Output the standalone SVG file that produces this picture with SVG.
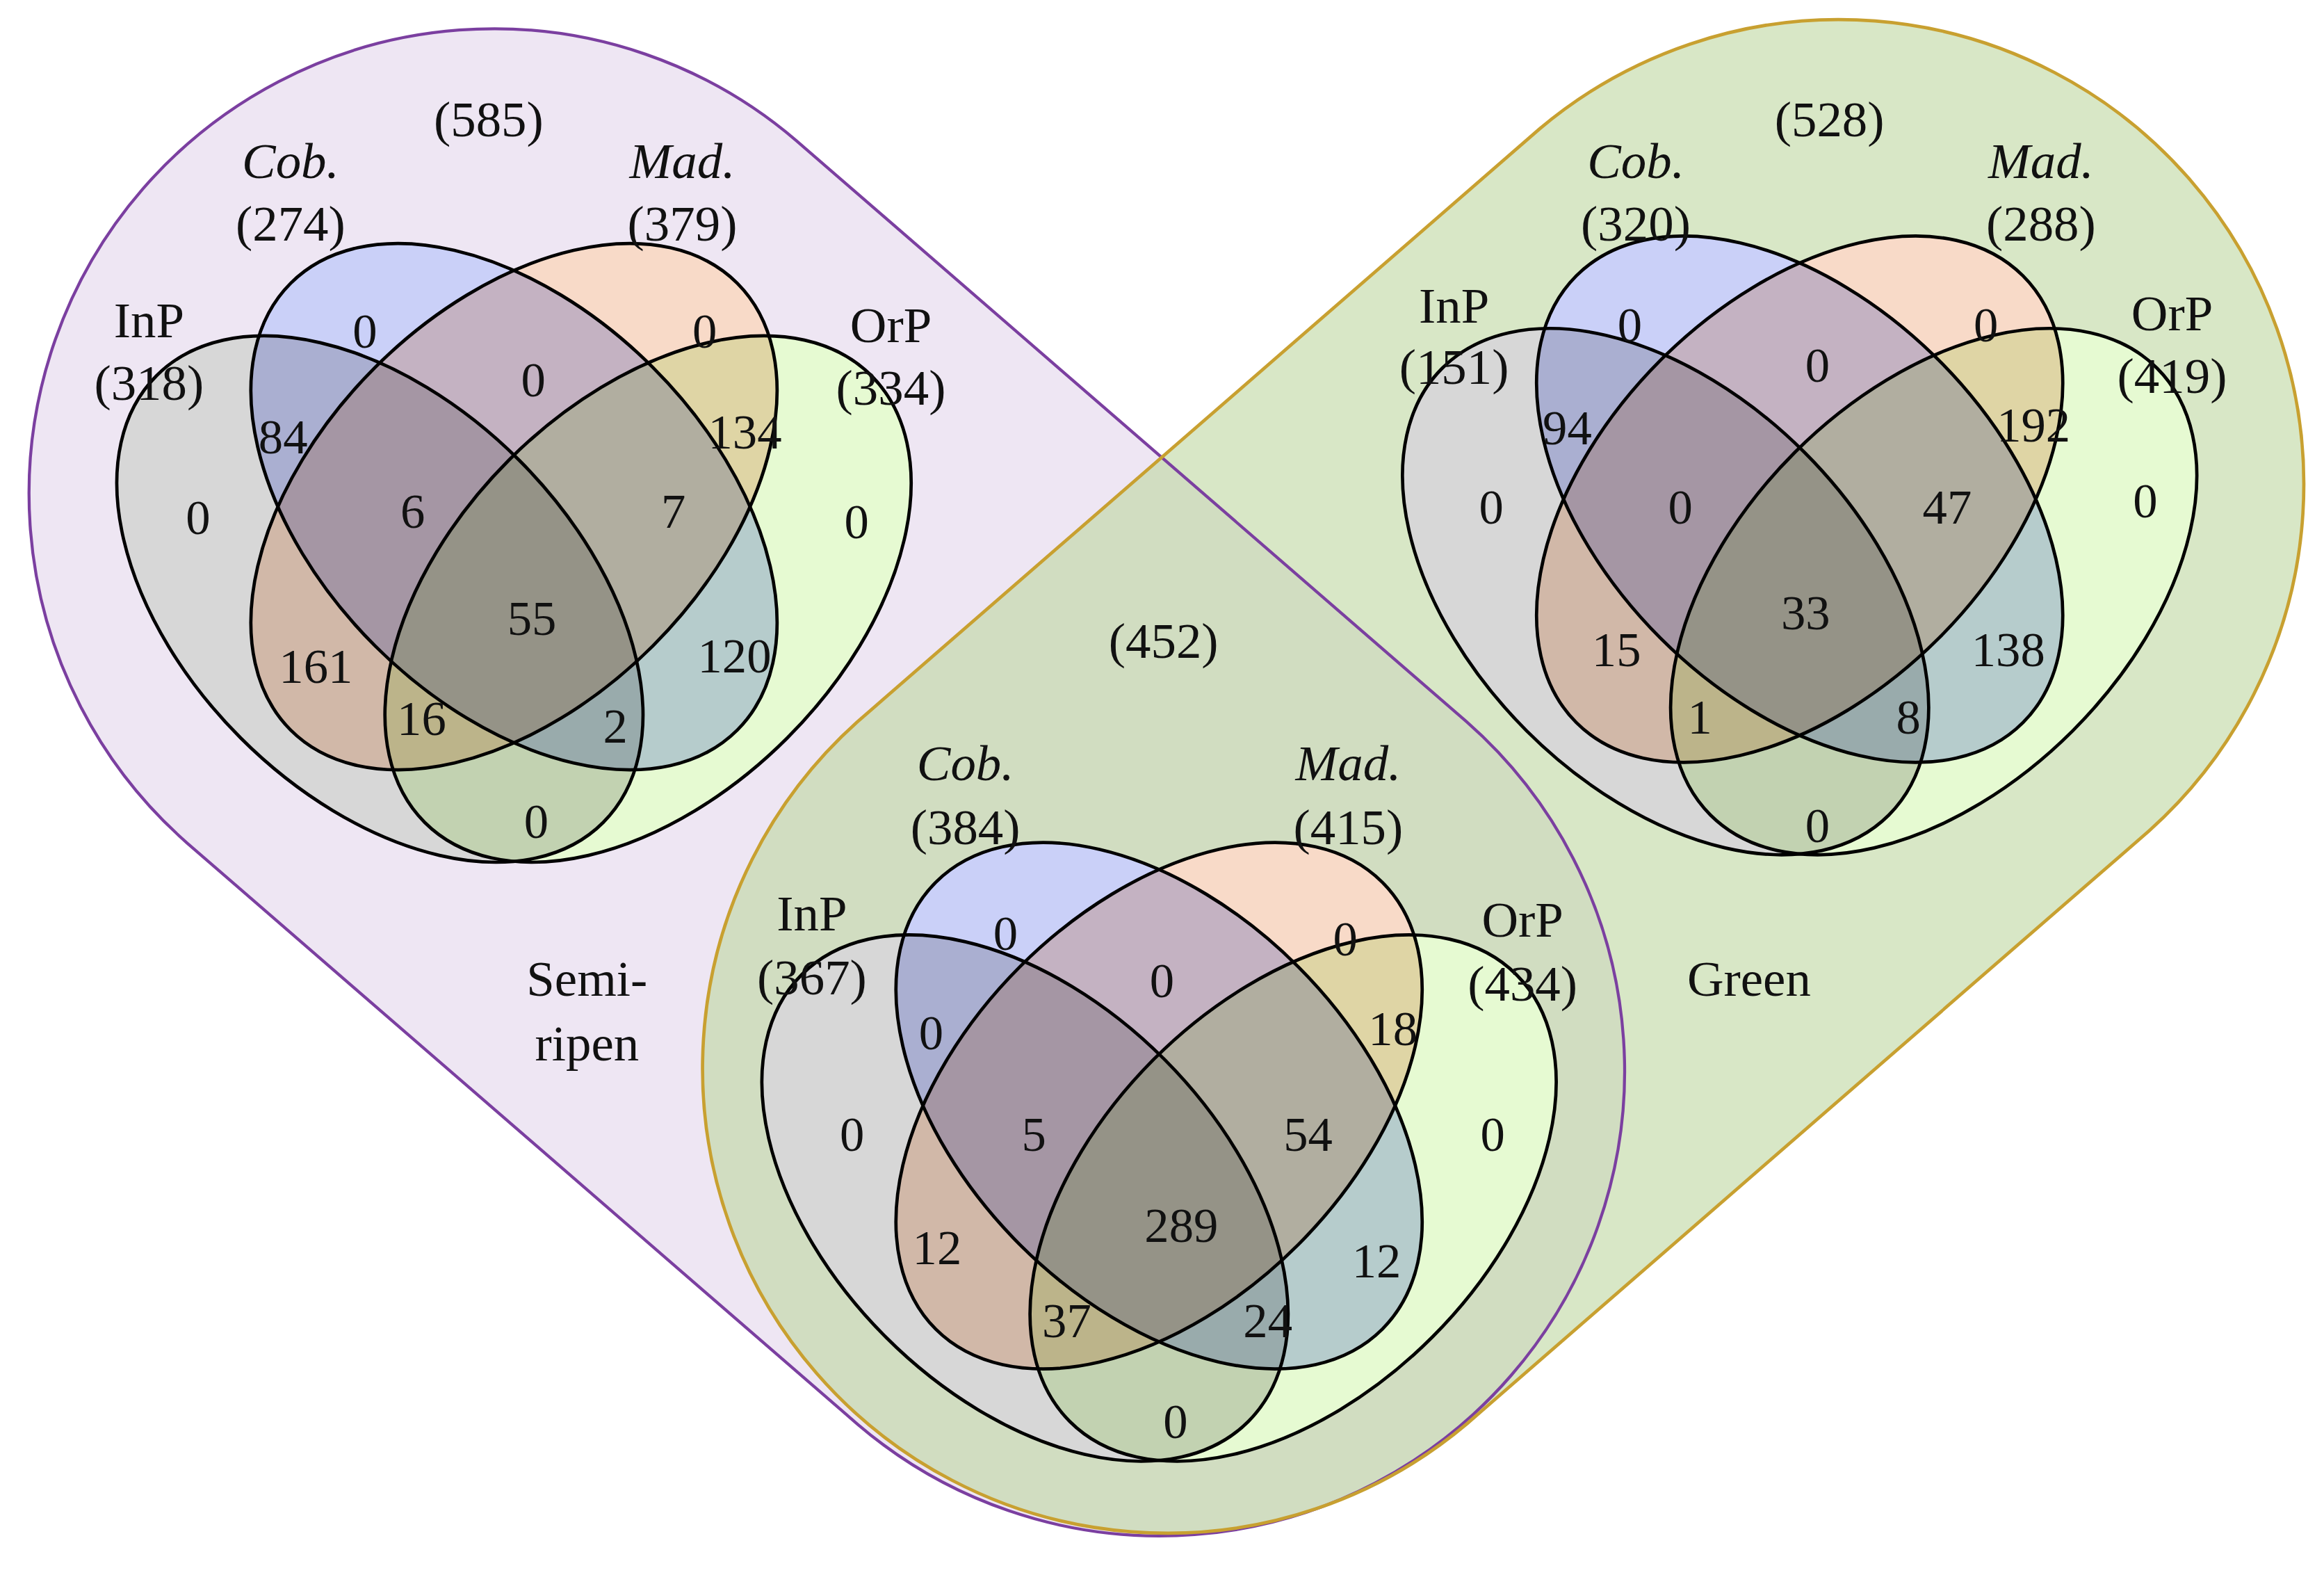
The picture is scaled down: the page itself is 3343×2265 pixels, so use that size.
<svg xmlns="http://www.w3.org/2000/svg" width="3343" height="2265" viewBox="0 0 3343 2265">
<style>
.t{font-family:"Liberation Serif","DejaVu Serif",serif;font-size:33px;fill:#111;text-anchor:middle;dominant-baseline:central}
.i{font-style:italic}
.lb{font-size:34px}
.e{stroke:#000;stroke-width:2.2;mix-blend-mode:multiply}
.w{fill:#fff}
.a{fill:rgb(215,215,215)}
.b{fill:rgb(202,208,248)}
.c{fill:rgb(248,218,200)}
.d{fill:rgb(230,250,210)}
.iso{isolation:isolate}
</style>
<defs>
<ellipse id="eA" cx="0" cy="0" rx="212" ry="132" transform="translate(-90,62) rotate(45)"/>
<ellipse id="eB" cx="0" cy="0" rx="212" ry="132" transform="rotate(45)"/>
<ellipse id="eC" cx="0" cy="0" rx="212" ry="132" transform="rotate(-45)"/>
<ellipse id="eD" cx="0" cy="0" rx="212" ry="132" transform="translate(90,62) rotate(-45)"/>
<g id="venn" class="iso">
<use href="#eA" class="w"/><use href="#eB" class="w"/><use href="#eC" class="w"/><use href="#eD" class="w"/>
<use href="#eA" class="e a"/><use href="#eB" class="e b"/><use href="#eC" class="e c"/><use href="#eD" class="e d"/>
</g>
</defs>
<rect width="3343" height="2265" fill="#fff"/>
<g transform="scale(2.143)">
<g id="groups">
<path id="semiripen" d="M534.3,94.2 L984.3,484.2 A312,312 0 0 1 575.7,955.8 L125.7,565.8 A312,312 0 0 1 534.3,94.2 Z" fill="#eee6f3"/>
<path id="green" d="M1033.4,86.5 A312,312 0 0 1 1442.6,557.5 L984.6,955.5 A312,312 0 0 1 575.4,484.5 Z" fill="rgb(190,215,160)" fill-opacity="0.6"/>
<path d="M534.3,94.2 L984.3,484.2 A312,312 0 0 1 575.7,955.8 L125.7,565.8 A312,312 0 0 1 534.3,94.2 Z" fill="none" stroke="#7b3fa0" stroke-width="2"/>
<path d="M1033.4,86.5 A312,312 0 0 1 1442.6,557.5 L984.6,955.5 A312,312 0 0 1 575.4,484.5 Z" fill="none" stroke="#c8a030" stroke-width="2.2"/>
</g>
<g id="venn-left">
<g class="iso" transform="translate(345,340)"><use href="#venn"/></g>
<text class="t lb" x="328" y="80">(585)</text>
<text class="t lb i" x="195" y="108">Cob.</text><text class="t lb" x="195" y="150">(274)</text>
<text class="t lb i" x="458" y="108">Mad.</text><text class="t lb" x="458" y="150">(379)</text>
<text class="t lb" x="100" y="215">InP</text><text class="t lb" x="100" y="257">(318)</text>
<text class="t lb" x="598" y="218">OrP</text><text class="t lb" x="598" y="260">(334)</text>
<text class="t" x="245" y="222">0</text><text class="t" x="473" y="222">0</text><text class="t" x="358" y="255">0</text>
<text class="t" x="190" y="293">84</text><text class="t" x="500" y="290">134</text>
<text class="t" x="133" y="347">0</text><text class="t" x="277" y="343">6</text><text class="t" x="452" y="343">7</text><text class="t" x="575" y="350">0</text>
<text class="t" x="357" y="415">55</text><text class="t" x="212" y="447">161</text><text class="t" x="493" y="440">120</text>
<text class="t" x="283" y="482">16</text><text class="t" x="413" y="487">2</text><text class="t" x="360" y="551">0</text>
</g>
<g id="venn-right">
<g class="iso" transform="translate(1208,335)"><use href="#venn"/></g>
<text class="t lb" x="1228" y="80">(528)</text>
<text class="t lb i" x="1098" y="108">Cob.</text><text class="t lb" x="1098" y="150">(320)</text>
<text class="t lb i" x="1370" y="108">Mad.</text><text class="t lb" x="1370" y="150">(288)</text>
<text class="t lb" x="976" y="205">InP</text><text class="t lb" x="976" y="246">(151)</text>
<text class="t lb" x="1458" y="210">OrP</text><text class="t lb" x="1458" y="252">(419)</text>
<text class="t" x="1094" y="218">0</text><text class="t" x="1333" y="218">0</text><text class="t" x="1220" y="245">0</text>
<text class="t" x="1052" y="287">94</text><text class="t" x="1365" y="285">192</text>
<text class="t" x="1001" y="340">0</text><text class="t" x="1128" y="340">0</text><text class="t" x="1307" y="340">47</text><text class="t" x="1440" y="336">0</text>
<text class="t" x="1212" y="411">33</text><text class="t" x="1085" y="436">15</text><text class="t" x="1348" y="436">138</text>
<text class="t" x="1141" y="481">1</text><text class="t" x="1281" y="481">8</text><text class="t" x="1220" y="554">0</text>
</g>
<g id="venn-bottom">
<g class="iso" transform="translate(778,742)"><use href="#venn"/></g>
<text class="t lb" x="781" y="430">(452)</text>
<text class="t lb i" x="648" y="512">Cob.</text><text class="t lb" x="648" y="555">(384)</text>
<text class="t lb i" x="905" y="512">Mad.</text><text class="t lb" x="905" y="555">(415)</text>
<text class="t lb" x="545" y="613">InP</text><text class="t lb" x="545" y="656">(367)</text>
<text class="t lb" x="1022" y="617">OrP</text><text class="t lb" x="1022" y="660">(434)</text>
<text class="t" x="675" y="626">0</text><text class="t" x="903" y="630">0</text><text class="t" x="780" y="658">0</text>
<text class="t" x="625" y="693">0</text><text class="t" x="935" y="690">18</text>
<text class="t" x="572" y="761">0</text><text class="t" x="694" y="761">5</text><text class="t" x="878" y="761">54</text><text class="t" x="1002" y="761">0</text>
<text class="t" x="793" y="822">289</text><text class="t" x="629" y="837">12</text><text class="t" x="924" y="846">12</text>
<text class="t" x="716" y="886">37</text><text class="t" x="851" y="886">24</text><text class="t" x="789" y="954">0</text>
</g>
<g id="labels">
<text class="t lb" x="394" y="657">Semi-</text><text class="t lb" x="394" y="700">ripen</text>
<text class="t lb" x="1174" y="657">Green</text>
</g>
</g>
</svg>
